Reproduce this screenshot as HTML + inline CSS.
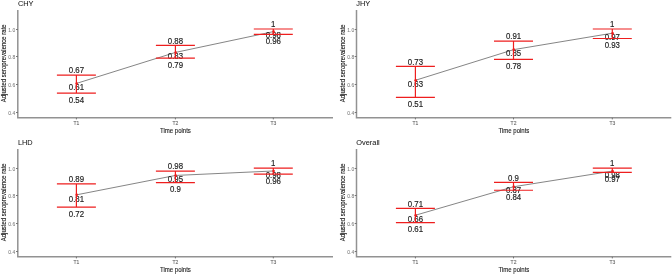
<!DOCTYPE html>
<html><head><meta charset="utf-8"><style>
html,body{margin:0;padding:0;background:#fff;}
svg{display:block;will-change:transform;}
text{font-family:"Liberation Sans",sans-serif;}
</style></head><body>
<svg width="672" height="274" viewBox="0 0 672 274">
<rect width="672" height="274" fill="#fff"/>
<text transform="translate(17.90 5.80)" font-size="7.4" fill="#111" stroke="#111" stroke-width="0.03">CHY</text>
<path d="M17.80 9.90V117.80H333.00" fill="none" stroke="#929292" stroke-width="1.5"/>
<path d="M16.00 29.50H17.80" stroke="#666" stroke-width="0.9"/>
<text transform="translate(15.20 31.80) scale(1.0 1.15)" font-size="5.0" fill="#7a7a7a" text-anchor="end" stroke="#7a7a7a" stroke-width="0.04">1.0</text>
<path d="M16.00 56.50H17.80" stroke="#666" stroke-width="0.9"/>
<text transform="translate(15.20 58.80) scale(1.0 1.15)" font-size="5.0" fill="#7a7a7a" text-anchor="end" stroke="#7a7a7a" stroke-width="0.04">0.8</text>
<path d="M16.00 84.50H17.80" stroke="#666" stroke-width="0.9"/>
<text transform="translate(15.20 86.80) scale(1.0 1.15)" font-size="5.0" fill="#7a7a7a" text-anchor="end" stroke="#7a7a7a" stroke-width="0.04">0.6</text>
<path d="M16.00 112.50H17.80" stroke="#666" stroke-width="0.9"/>
<text transform="translate(15.20 114.80) scale(1.0 1.15)" font-size="5.0" fill="#7a7a7a" text-anchor="end" stroke="#7a7a7a" stroke-width="0.04">0.4</text>
<path d="M76.40 117.80V119.40" stroke="#666" stroke-width="0.9"/>
<text transform="translate(76.40 124.60) scale(1.0 1.15)" font-size="5.0" fill="#6a6a6a" text-anchor="middle" stroke="#6a6a6a" stroke-width="0.1">T1</text>
<path d="M175.40 117.80V119.40" stroke="#666" stroke-width="0.9"/>
<text transform="translate(175.40 124.60) scale(1.0 1.15)" font-size="5.0" fill="#6a6a6a" text-anchor="middle" stroke="#6a6a6a" stroke-width="0.1">T2</text>
<path d="M273.30 117.80V119.40" stroke="#666" stroke-width="0.9"/>
<text transform="translate(273.30 124.60) scale(1.0 1.15)" font-size="5.0" fill="#6a6a6a" text-anchor="middle" stroke="#6a6a6a" stroke-width="0.1">T3</text>
<text transform="translate(175.40 132.80) scale(1.0 1.15)" font-size="6.05" fill="#222" text-anchor="middle" stroke="#222" stroke-width="0.1">Time points</text>
<text transform="translate(6.10 63.30) rotate(-90) scale(1.0 1.07)" font-size="6.0" fill="#111" text-anchor="middle" stroke="#111" stroke-width="0.1">Adjusted seroprevalence rate</text>
<polyline points="76.40,83.44 175.40,52.45 273.30,31.65" fill="none" stroke="#505050" stroke-width="0.7"/>
<text transform="translate(76.40 73.27) scale(0.98 1.15)" font-size="8.0" fill="#1e1e1e" text-anchor="middle" stroke="#1e1e1e" stroke-width="0.16">0.67</text>
<text transform="translate(76.40 90.14) scale(0.98 1.15)" font-size="8.0" fill="#1e1e1e" text-anchor="middle" stroke="#1e1e1e" stroke-width="0.16">0.61</text>
<text transform="translate(76.40 102.82) scale(0.98 1.15)" font-size="8.0" fill="#1e1e1e" text-anchor="middle" stroke="#1e1e1e" stroke-width="0.16">0.54</text>
<text transform="translate(175.40 43.67) scale(0.98 1.15)" font-size="8.0" fill="#1e1e1e" text-anchor="middle" stroke="#1e1e1e" stroke-width="0.16">0.88</text>
<text transform="translate(175.40 59.15) scale(0.98 1.15)" font-size="8.0" fill="#1e1e1e" text-anchor="middle" stroke="#1e1e1e" stroke-width="0.16">0.83</text>
<text transform="translate(175.40 67.64) scale(0.98 1.15)" font-size="8.0" fill="#1e1e1e" text-anchor="middle" stroke="#1e1e1e" stroke-width="0.16">0.79</text>
<text transform="translate(273.30 27.20) scale(0.98 1.15)" font-size="8.0" fill="#1e1e1e" text-anchor="middle" stroke="#1e1e1e" stroke-width="0.16">1</text>
<text transform="translate(273.30 38.35) scale(0.98 1.15)" font-size="8.0" fill="#1e1e1e" text-anchor="middle" stroke="#1e1e1e" stroke-width="0.16">0.98</text>
<text transform="translate(273.30 44.04) scale(0.98 1.15)" font-size="8.0" fill="#1e1e1e" text-anchor="middle" stroke="#1e1e1e" stroke-width="0.16">0.96</text>
<path d="M56.90 75.07H95.90M56.90 93.22H95.90M76.40 75.07V93.22" stroke="#ee1e1e" stroke-width="1.2" fill="none"/>
<circle cx="76.70" cy="83.44" r="1.3" fill="#ee1e1e"/>
<path d="M155.90 45.47H194.90M155.90 58.04H194.90M175.40 45.47V58.04" stroke="#ee1e1e" stroke-width="1.2" fill="none"/>
<circle cx="175.70" cy="52.45" r="1.3" fill="#ee1e1e"/>
<path d="M253.80 29.00H292.80M253.80 34.44H292.80M273.30 29.00V34.44" stroke="#ee1e1e" stroke-width="1.2" fill="none"/>
<circle cx="273.60" cy="31.65" r="1.3" fill="#ee1e1e"/>
<text transform="translate(356.30 5.80)" font-size="7.4" fill="#111" stroke="#111" stroke-width="0.03">JHY</text>
<path d="M356.50 9.90V117.80H671.30" fill="none" stroke="#929292" stroke-width="1.5"/>
<path d="M354.70 29.50H356.50" stroke="#666" stroke-width="0.9"/>
<text transform="translate(354.20 31.80) scale(1.0 1.15)" font-size="5.0" fill="#7a7a7a" text-anchor="end" stroke="#7a7a7a" stroke-width="0.04">1.0</text>
<path d="M354.70 56.50H356.50" stroke="#666" stroke-width="0.9"/>
<text transform="translate(354.20 58.80) scale(1.0 1.15)" font-size="5.0" fill="#7a7a7a" text-anchor="end" stroke="#7a7a7a" stroke-width="0.04">0.8</text>
<path d="M354.70 84.50H356.50" stroke="#666" stroke-width="0.9"/>
<text transform="translate(354.20 86.80) scale(1.0 1.15)" font-size="5.0" fill="#7a7a7a" text-anchor="end" stroke="#7a7a7a" stroke-width="0.04">0.6</text>
<path d="M354.70 112.50H356.50" stroke="#666" stroke-width="0.9"/>
<text transform="translate(354.20 114.80) scale(1.0 1.15)" font-size="5.0" fill="#7a7a7a" text-anchor="end" stroke="#7a7a7a" stroke-width="0.04">0.4</text>
<path d="M415.40 117.80V119.40" stroke="#666" stroke-width="0.9"/>
<text transform="translate(415.40 124.60) scale(1.0 1.15)" font-size="5.0" fill="#6a6a6a" text-anchor="middle" stroke="#6a6a6a" stroke-width="0.1">T1</text>
<path d="M513.50 117.80V119.40" stroke="#666" stroke-width="0.9"/>
<text transform="translate(513.50 124.60) scale(1.0 1.15)" font-size="5.0" fill="#6a6a6a" text-anchor="middle" stroke="#6a6a6a" stroke-width="0.1">T2</text>
<path d="M612.30 117.80V119.40" stroke="#666" stroke-width="0.9"/>
<text transform="translate(612.30 124.60) scale(1.0 1.15)" font-size="5.0" fill="#6a6a6a" text-anchor="middle" stroke="#6a6a6a" stroke-width="0.1">T3</text>
<text transform="translate(513.90 132.80) scale(1.0 1.15)" font-size="6.05" fill="#222" text-anchor="middle" stroke="#222" stroke-width="0.1">Time points</text>
<text transform="translate(345.10 63.30) rotate(-90) scale(1.0 1.07)" font-size="6.0" fill="#111" text-anchor="middle" stroke="#111" stroke-width="0.1">Adjusted seroprevalence rate</text>
<polyline points="415.40,80.30 513.50,49.66 612.30,33.19" fill="none" stroke="#505050" stroke-width="0.7"/>
<text transform="translate(415.40 64.61) scale(0.98 1.15)" font-size="8.0" fill="#1e1e1e" text-anchor="middle" stroke="#1e1e1e" stroke-width="0.16">0.73</text>
<text transform="translate(415.40 87.00) scale(0.98 1.15)" font-size="8.0" fill="#1e1e1e" text-anchor="middle" stroke="#1e1e1e" stroke-width="0.16">0.63</text>
<text transform="translate(415.40 107.00) scale(0.98 1.15)" font-size="8.0" fill="#1e1e1e" text-anchor="middle" stroke="#1e1e1e" stroke-width="0.16">0.51</text>
<text transform="translate(513.50 39.35) scale(0.98 1.15)" font-size="8.0" fill="#1e1e1e" text-anchor="middle" stroke="#1e1e1e" stroke-width="0.16">0.91</text>
<text transform="translate(513.50 56.36) scale(0.98 1.15)" font-size="8.0" fill="#1e1e1e" text-anchor="middle" stroke="#1e1e1e" stroke-width="0.16">0.85</text>
<text transform="translate(513.50 69.03) scale(0.98 1.15)" font-size="8.0" fill="#1e1e1e" text-anchor="middle" stroke="#1e1e1e" stroke-width="0.16">0.78</text>
<text transform="translate(612.30 27.20) scale(0.98 1.15)" font-size="8.0" fill="#1e1e1e" text-anchor="middle" stroke="#1e1e1e" stroke-width="0.16">1</text>
<text transform="translate(612.30 39.89) scale(0.98 1.15)" font-size="8.0" fill="#1e1e1e" text-anchor="middle" stroke="#1e1e1e" stroke-width="0.16">0.97</text>
<text transform="translate(612.30 48.09) scale(0.98 1.15)" font-size="8.0" fill="#1e1e1e" text-anchor="middle" stroke="#1e1e1e" stroke-width="0.16">0.93</text>
<path d="M395.90 66.41H434.90M395.90 97.40H434.90M415.40 66.41V97.40" stroke="#ee1e1e" stroke-width="1.2" fill="none"/>
<circle cx="415.70" cy="80.30" r="1.3" fill="#ee1e1e"/>
<path d="M494.00 41.15H533.00M494.00 59.43H533.00M513.50 41.15V59.43" stroke="#ee1e1e" stroke-width="1.2" fill="none"/>
<circle cx="513.80" cy="49.66" r="1.3" fill="#ee1e1e"/>
<path d="M592.80 29.00H631.80M592.80 38.49H631.80M612.30 29.00V38.49" stroke="#ee1e1e" stroke-width="1.2" fill="none"/>
<circle cx="612.60" cy="33.19" r="1.3" fill="#ee1e1e"/>
<text transform="translate(17.90 144.80)" font-size="7.4" fill="#111" stroke="#111" stroke-width="0.03">LHD</text>
<path d="M17.80 148.90V256.80H333.00" fill="none" stroke="#929292" stroke-width="1.5"/>
<path d="M16.00 168.50H17.80" stroke="#666" stroke-width="0.9"/>
<text transform="translate(15.20 170.80) scale(1.0 1.15)" font-size="5.0" fill="#7a7a7a" text-anchor="end" stroke="#7a7a7a" stroke-width="0.04">1.0</text>
<path d="M16.00 195.50H17.80" stroke="#666" stroke-width="0.9"/>
<text transform="translate(15.20 197.80) scale(1.0 1.15)" font-size="5.0" fill="#7a7a7a" text-anchor="end" stroke="#7a7a7a" stroke-width="0.04">0.8</text>
<path d="M16.00 223.50H17.80" stroke="#666" stroke-width="0.9"/>
<text transform="translate(15.20 225.80) scale(1.0 1.15)" font-size="5.0" fill="#7a7a7a" text-anchor="end" stroke="#7a7a7a" stroke-width="0.04">0.6</text>
<path d="M16.00 251.50H17.80" stroke="#666" stroke-width="0.9"/>
<text transform="translate(15.20 253.80) scale(1.0 1.15)" font-size="5.0" fill="#7a7a7a" text-anchor="end" stroke="#7a7a7a" stroke-width="0.04">0.4</text>
<path d="M76.40 256.80V258.40" stroke="#666" stroke-width="0.9"/>
<text transform="translate(76.40 263.60) scale(1.0 1.15)" font-size="5.0" fill="#6a6a6a" text-anchor="middle" stroke="#6a6a6a" stroke-width="0.1">T1</text>
<path d="M175.40 256.80V258.40" stroke="#666" stroke-width="0.9"/>
<text transform="translate(175.40 263.60) scale(1.0 1.15)" font-size="5.0" fill="#6a6a6a" text-anchor="middle" stroke="#6a6a6a" stroke-width="0.1">T2</text>
<path d="M273.30 256.80V258.40" stroke="#666" stroke-width="0.9"/>
<text transform="translate(273.30 263.60) scale(1.0 1.15)" font-size="5.0" fill="#6a6a6a" text-anchor="middle" stroke="#6a6a6a" stroke-width="0.1">T3</text>
<text transform="translate(175.40 271.80) scale(1.0 1.15)" font-size="6.05" fill="#222" text-anchor="middle" stroke="#222" stroke-width="0.1">Time points</text>
<text transform="translate(6.10 202.30) rotate(-90) scale(1.0 1.07)" font-size="6.0" fill="#111" text-anchor="middle" stroke="#111" stroke-width="0.1">Adjusted seroprevalence rate</text>
<polyline points="76.40,194.86 175.40,175.46 273.30,170.99" fill="none" stroke="#505050" stroke-width="0.7"/>
<text transform="translate(76.40 182.04) scale(0.98 1.15)" font-size="8.0" fill="#1e1e1e" text-anchor="middle" stroke="#1e1e1e" stroke-width="0.16">0.89</text>
<text transform="translate(76.40 201.56) scale(0.98 1.15)" font-size="8.0" fill="#1e1e1e" text-anchor="middle" stroke="#1e1e1e" stroke-width="0.16">0.81</text>
<text transform="translate(76.40 216.75) scale(0.98 1.15)" font-size="8.0" fill="#1e1e1e" text-anchor="middle" stroke="#1e1e1e" stroke-width="0.16">0.72</text>
<text transform="translate(175.40 169.33) scale(0.98 1.15)" font-size="8.0" fill="#1e1e1e" text-anchor="middle" stroke="#1e1e1e" stroke-width="0.16">0.98</text>
<text transform="translate(175.40 182.16) scale(0.98 1.15)" font-size="8.0" fill="#1e1e1e" text-anchor="middle" stroke="#1e1e1e" stroke-width="0.16">0.95</text>
<text transform="translate(175.40 192.32) scale(0.98 1.15)" font-size="8.0" fill="#1e1e1e" text-anchor="middle" stroke="#1e1e1e" stroke-width="0.16">0.9</text>
<text transform="translate(273.30 166.40) scale(0.98 1.15)" font-size="8.0" fill="#1e1e1e" text-anchor="middle" stroke="#1e1e1e" stroke-width="0.16">1</text>
<text transform="translate(273.30 177.69) scale(0.98 1.15)" font-size="8.0" fill="#1e1e1e" text-anchor="middle" stroke="#1e1e1e" stroke-width="0.16">0.98</text>
<text transform="translate(273.30 183.66) scale(0.98 1.15)" font-size="8.0" fill="#1e1e1e" text-anchor="middle" stroke="#1e1e1e" stroke-width="0.16">0.96</text>
<path d="M56.90 183.84H95.90M56.90 207.15H95.90M76.40 183.84V207.15" stroke="#ee1e1e" stroke-width="1.2" fill="none"/>
<circle cx="76.70" cy="194.86" r="1.3" fill="#ee1e1e"/>
<path d="M155.90 171.13H194.90M155.90 182.72H194.90M175.40 171.13V182.72" stroke="#ee1e1e" stroke-width="1.2" fill="none"/>
<circle cx="175.70" cy="175.46" r="1.3" fill="#ee1e1e"/>
<path d="M253.80 168.20H292.80M253.80 174.06H292.80M273.30 168.20V174.06" stroke="#ee1e1e" stroke-width="1.2" fill="none"/>
<circle cx="273.60" cy="170.99" r="1.3" fill="#ee1e1e"/>
<text transform="translate(356.30 144.80)" font-size="7.4" fill="#111" stroke="#111" stroke-width="0.03">Overall</text>
<path d="M356.50 148.90V256.80H671.30" fill="none" stroke="#929292" stroke-width="1.5"/>
<path d="M354.70 168.50H356.50" stroke="#666" stroke-width="0.9"/>
<text transform="translate(354.20 170.80) scale(1.0 1.15)" font-size="5.0" fill="#7a7a7a" text-anchor="end" stroke="#7a7a7a" stroke-width="0.04">1.0</text>
<path d="M354.70 195.50H356.50" stroke="#666" stroke-width="0.9"/>
<text transform="translate(354.20 197.80) scale(1.0 1.15)" font-size="5.0" fill="#7a7a7a" text-anchor="end" stroke="#7a7a7a" stroke-width="0.04">0.8</text>
<path d="M354.70 223.50H356.50" stroke="#666" stroke-width="0.9"/>
<text transform="translate(354.20 225.80) scale(1.0 1.15)" font-size="5.0" fill="#7a7a7a" text-anchor="end" stroke="#7a7a7a" stroke-width="0.04">0.6</text>
<path d="M354.70 251.50H356.50" stroke="#666" stroke-width="0.9"/>
<text transform="translate(354.20 253.80) scale(1.0 1.15)" font-size="5.0" fill="#7a7a7a" text-anchor="end" stroke="#7a7a7a" stroke-width="0.04">0.4</text>
<path d="M415.40 256.80V258.40" stroke="#666" stroke-width="0.9"/>
<text transform="translate(415.40 263.60) scale(1.0 1.15)" font-size="5.0" fill="#6a6a6a" text-anchor="middle" stroke="#6a6a6a" stroke-width="0.1">T1</text>
<path d="M513.50 256.80V258.40" stroke="#666" stroke-width="0.9"/>
<text transform="translate(513.50 263.60) scale(1.0 1.15)" font-size="5.0" fill="#6a6a6a" text-anchor="middle" stroke="#6a6a6a" stroke-width="0.1">T2</text>
<path d="M612.30 256.80V258.40" stroke="#666" stroke-width="0.9"/>
<text transform="translate(612.30 263.60) scale(1.0 1.15)" font-size="5.0" fill="#6a6a6a" text-anchor="middle" stroke="#6a6a6a" stroke-width="0.1">T3</text>
<text transform="translate(513.90 271.80) scale(1.0 1.15)" font-size="6.05" fill="#222" text-anchor="middle" stroke="#222" stroke-width="0.1">Time points</text>
<text transform="translate(345.10 202.30) rotate(-90) scale(1.0 1.07)" font-size="6.0" fill="#111" text-anchor="middle" stroke="#111" stroke-width="0.1">Adjusted seroprevalence rate</text>
<polyline points="415.40,215.25 513.50,186.77 612.30,171.13" fill="none" stroke="#505050" stroke-width="0.7"/>
<text transform="translate(415.40 206.60) scale(0.98 1.15)" font-size="8.0" fill="#1e1e1e" text-anchor="middle" stroke="#1e1e1e" stroke-width="0.16">0.71</text>
<text transform="translate(415.40 221.95) scale(0.98 1.15)" font-size="8.0" fill="#1e1e1e" text-anchor="middle" stroke="#1e1e1e" stroke-width="0.16">0.66</text>
<text transform="translate(415.40 232.24) scale(0.98 1.15)" font-size="8.0" fill="#1e1e1e" text-anchor="middle" stroke="#1e1e1e" stroke-width="0.16">0.61</text>
<text transform="translate(513.50 180.64) scale(0.98 1.15)" font-size="8.0" fill="#1e1e1e" text-anchor="middle" stroke="#1e1e1e" stroke-width="0.16">0.9</text>
<text transform="translate(513.50 193.47) scale(0.98 1.15)" font-size="8.0" fill="#1e1e1e" text-anchor="middle" stroke="#1e1e1e" stroke-width="0.16">0.87</text>
<text transform="translate(513.50 199.86) scale(0.98 1.15)" font-size="8.0" fill="#1e1e1e" text-anchor="middle" stroke="#1e1e1e" stroke-width="0.16">0.84</text>
<text transform="translate(612.30 166.40) scale(0.98 1.15)" font-size="8.0" fill="#1e1e1e" text-anchor="middle" stroke="#1e1e1e" stroke-width="0.16">1</text>
<text transform="translate(612.30 177.83) scale(0.98 1.15)" font-size="8.0" fill="#1e1e1e" text-anchor="middle" stroke="#1e1e1e" stroke-width="0.16">0.98</text>
<text transform="translate(612.30 181.99) scale(0.98 1.15)" font-size="8.0" fill="#1e1e1e" text-anchor="middle" stroke="#1e1e1e" stroke-width="0.16">0.97</text>
<path d="M395.90 208.40H434.90M395.90 222.64H434.90M415.40 208.40V222.64" stroke="#ee1e1e" stroke-width="1.2" fill="none"/>
<circle cx="415.70" cy="215.25" r="1.3" fill="#ee1e1e"/>
<path d="M494.00 182.44H533.00M494.00 190.26H533.00M513.50 182.44V190.26" stroke="#ee1e1e" stroke-width="1.2" fill="none"/>
<circle cx="513.80" cy="186.77" r="1.3" fill="#ee1e1e"/>
<path d="M592.80 168.20H631.80M592.80 172.39H631.80M612.30 168.20V172.39" stroke="#ee1e1e" stroke-width="1.2" fill="none"/>
<circle cx="612.60" cy="171.13" r="1.3" fill="#ee1e1e"/>
</svg>
</body></html>
